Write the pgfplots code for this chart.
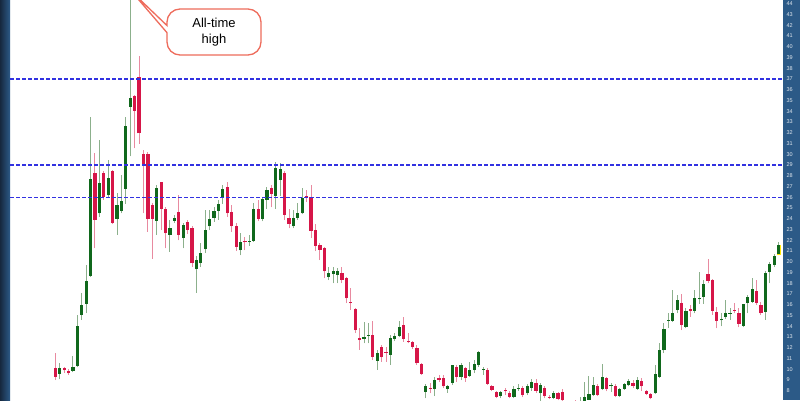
\documentclass[border=0pt]{standalone}
\usepackage{pgfplots}
\pgfplotsset{compat=1.18}
\usepackage{pgfplotstable}
\usepackage{fontspec}
\setmainfont{Liberation Sans}
\usetikzlibrary{shapes.callouts}

\definecolor{gbody}{RGB}{16,104,28}
\definecolor{rbody}{RGB}{214,22,72}
\definecolor{gwick}{RGB}{140,176,140}
\definecolor{rwick}{RGB}{232,138,160}
\definecolor{levelblue}{RGB}{50,50,225}
\definecolor{bandblue}{RGB}{44,90,135}
\definecolor{banddark}{RGB}{22,40,62}
\definecolor{calloutline}{RGB}{238,108,92}

% daily candles: index, open, high, low, close
\pgfplotstableread{
x o h l c
1 9.6 10.6 9.05 10.1
4 9.87 11.25 9.7 10.24
5 10.3 15.05 10.2 14.0
6 15.05 17.05 14.6 16.0
7 16.1 19.7 15.2 18.2
8 18.7 33.5 18.6 27.7
10 24.5 31.3 24.2 27.3
12 26.2 29.45 26.05 27.8
14 24.0 26.4 22.5 25.3
15 24.7 28.1 24.5 25.65
16 26.8 33.5 25.4 32.6
17 34.4 44.6 29.8 35.2
23 23.8 27.1 22.5 26.9
26 22.5 23.9 20.95 23.1
27 23.8 24.35 23.6 24.1
29 22.2 23.6 21.25 23.4
32 19.3 20.5 17.1 20.15
33 19.85 21.7 19.5 20.8
34 21.15 24.8 20.8 22.95
35 23.3 24.8 22.95 24.0
36 24.05 25.1 23.7 24.7
37 24.75 25.75 23.9 25.37
38 26.0 27.1 25.4 26.8
42 21.05 22.65 20.6 21.85
44 21.85 22.5 21.5 21.97
45 21.95 25.45 21.85 24.9
47 24.0 26.05 23.75 25.8
48 25.75 27.0 24.95 26.65
50 26.1 29.3 24.95 28.7
51 27.6 29.2 26.1 28.6
54 23.3 24.8 23.1 24.1
55 24.05 25.5 23.9 24.5
56 24.5 26.85 24.4 25.95
62 18.6 19.55 18.3 19.0
63 18.85 19.55 18.0 19.15
64 18.8 19.4 18.0 19.1
70 12.85 14.4 12.4 13.0
71 13.1 14.3 12.4 13.2
73 10.8 11.8 9.95 11.55
76 11.35 13.2 10.4 12.95
77 12.8 13.4 12.6 13.1
78 13.1 14.45 13.0 13.9
84 7.9 8.6 7.3 8.45
86 8.15 9.3 7.5 9.0
89 8.15 8.5 7.8 8.4
90 8.75 10.4 8.55 10.35
92 9.25 10.55 9.0 10.4
94 9.35 10.7 9.3 9.95
95 9.95 10.85 9.65 10.5
96 10.4 11.7 10.25 11.6
97 9.95 10.25 9.5 10.05
101 7.5 8.0 7.3 7.9
104 7.45 8.45 7.3 8.2
105 8.2 8.6 8.0 8.3
107 7.75 8.6 7.6 8.4
108 8.3 9.1 8.0 8.8
110 7.75 8.7 7.0 8.5
113 7.35 8.0 7.2 7.8
117 6.6 7.05 6.4 6.9
119 6.7 7.45 6.6 7.0
120 7.0 8.8 6.9 7.4
121 7.15 9.35 7.1 7.7
122 7.6 9.3 7.5 8.55
124 8.15 10.5 8.05 9.3
126 8.4 8.7 7.9 8.5
128 7.5 8.3 7.4 8.2
129 8.2 8.7 8.1 8.6
130 8.5 9.1 8.4 8.9
132 8.2 9.3 8.1 9.0
136 7.75 10.4 7.7 9.6
137 9.3 12.4 9.15 11.8
138 11.75 14.3 11.5 13.7
139 14.5 15.2 13.8 14.6
140 14.5 17.35 14.4 15.2
141 15.5 16.9 15.2 16.4
143 13.95 15.7 13.8 15.45
145 15.45 17.35 15.2 16.6
146 16.5 19.05 16.1 16.6
147 16.7 18.3 16.1 17.95
151 14.55 15.2 14.0 14.65
152 14.85 16.45 14.7 15.25
153 15.15 15.7 14.6 15.2
156 14.05 16.1 13.9 16.05
157 16.15 16.9 15.2 16.7
158 16.3 18.45 16.2 17.45
161 15.35 19.1 14.6 19.0
162 19.05 20.0 18.0 19.75
163 19.7 20.7 19.5 20.55
164 20.7 21.8 20.6 21.55
}\upcandles

\pgfplotstableread{
x o h l c
0 10.1 11.5 9.0 9.3
2 10.15 10.25 9.65 9.9
3 9.87 10.0 9.47 9.62
9 28.3 30.1 21.25 23.9
11 28.3 28.4 25.75 26.05
13 28.4 28.5 23.5 23.65
18 35.4 35.5 30.55 34.05
19 37.15 39.15 31.0 31.95
20 30.0 30.4 24.5 29.0
21 30.0 30.2 22.8 24.0
22 25.3 25.45 20.3 24.0
24 27.4 27.45 22.95 24.9
25 24.9 25.1 21.25 22.65
28 24.6 26.2 22.0 22.5
30 23.7 23.9 22.6 23.0
31 23.1 23.3 19.55 19.85
39 27.0 27.45 24.2 24.5
40 24.6 25.3 22.8 23.3
41 23.3 23.6 21.0 21.4
43 21.9 22.3 21.05 21.8
46 24.9 25.75 23.75 24.0
49 26.85 27.1 25.05 26.3
52 28.3 28.4 23.9 24.35
53 24.1 24.95 23.1 23.5
57 26.1 26.7 25.55 25.9
58 26.05 27.15 22.2 22.9
59 23.0 23.55 21.0 21.45
60 21.55 21.7 20.15 21.1
61 21.25 21.4 18.45 19.1
65 18.95 19.55 18.0 18.3
66 18.45 18.6 16.15 16.6
67 16.3 17.55 15.5 16.15
68 15.6 15.7 13.35 13.65
69 12.9 13.8 11.8 12.7
72 13.2 14.45 10.85 11.15
74 12.05 12.25 10.7 11.1
75 11.65 12.1 10.7 11.55
79 14.1 14.9 12.55 12.8
80 12.65 13.35 12.4 12.5
81 12.5 12.6 11.9 12.05
82 11.95 12.25 10.4 10.55
83 10.45 10.6 9.5 9.6
85 8.3 8.7 7.75 8.2
87 9.15 9.45 8.8 9.0
88 9.2 9.45 8.25 8.4
91 10.25 10.35 8.85 9.3
93 10.1 10.25 8.85 9.15
98 9.95 10.1 8.55 8.65
99 8.45 8.55 7.95 8.1
100 7.9 8.0 7.3 7.45
102 8.05 8.3 7.6 7.95
103 7.8 8.0 7.3 7.45
106 8.3 8.4 7.4 7.6
109 8.7 9.1 7.8 8.0
111 8.3 8.4 7.3 7.5
112 7.45 7.6 7.2 7.35
114 7.8 7.9 7.1 7.25
115 7.85 8.2 6.9 7.1
116 6.9 7.0 6.5 6.6
118 6.9 7.1 6.5 6.7
123 8.45 8.6 7.5 7.6
125 9.15 9.3 7.95 8.15
127 8.45 8.6 7.4 7.55
131 8.75 9.0 8.3 8.45
133 8.9 9.15 8.0 8.4
134 8.0 8.1 7.6 7.7
135 7.7 7.8 7.2 7.3
142 16.15 17.0 13.65 14.1
144 15.65 15.95 14.9 15.45
148 18.9 20.3 18.0 18.25
149 18.3 18.35 15.05 15.45
150 15.3 15.8 13.8 14.5
154 15.5 16.2 15.2 15.4
155 15.25 15.7 13.9 14.25
159 17.3 18.3 16.0 16.15
160 16.0 16.3 15.05 15.2
}\downcandles

% latest candle, outlined
\pgfplotstableread{
x o c
164 20.65 21.6
}\lastcandle

% price levels
\pgfplotstableread{
x y
-10.27 37
165 37
}\levelA
\pgfplotstableread{
x y
-10.27 29
165 29
}\levelB
\pgfplotstableread{
x y
-10.27 26
165 26
}\levelC

\pgfplotsset{
  candlepart/.style 2 args={draw=none, mark=none, forget plot,
    error bars/.cd, y dir=plus, y explicit, error mark=none,
    error bar style={line width=#1, draw=#2, solid}},
  levelline/.style={draw=levelblue, line width=1.45pt, mark=none, forget plot,
    dash pattern=on 4pt off 2pt},
}

\begin{document}
\begin{tikzpicture}[x=1pt,y=1pt]
\path[use as bounding box, clip] (0,0) rectangle (800,400);
\fill[white] (0,0) rectangle (800,400);
\shade[left color=banddark, right color=bandblue] (0,0) rectangle (10,400);
\fill[bandblue] (783,0) rectangle (800,400);

\begin{axis}[
  at={(10pt,0pt)}, anchor=south west,
  scale only axis, width=773pt, height=400pt,
  xmin=-10.27, xmax=165, ymin=7.14, ymax=44.35,
  axis line style={draw=none},
  xtick=\empty,
  ytick={8,...,44},
  yticklabel pos=right,
  major tick length=0pt,
  yticklabel style={font=\fontsize{5.5}{6}\selectfont, text=white!85!bandblue},
  /pgf/number format/assume math mode=true,
  clip=true,
]
% wicks
\addplot[candlepart={1pt}{gwick}]
  table[x=x, y=l, y error plus expr=\thisrow{h}-\thisrow{l}] {\upcandles};
\addplot[candlepart={1pt}{rwick}]
  table[x=x, y=l, y error plus expr=\thisrow{h}-\thisrow{l}] {\downcandles};
% outline behind the latest candle
\addplot[candlepart={4.2pt}{yellow!90!orange}]
  table[x=x, y=o, y error plus expr=\thisrow{c}-\thisrow{o}] {\lastcandle};
% bodies
\addplot[candlepart={3.2pt}{gbody}]
  table[x=x, y=o, y error plus expr=\thisrow{c}-\thisrow{o}] {\upcandles};
\addplot[candlepart={3.2pt}{rbody}]
  table[x=x, y=c, y error plus expr=\thisrow{o}-\thisrow{c}] {\downcandles};
% horizontal levels
\addplot[levelline] table {\levelA};
\addplot[levelline] table {\levelB};
\addplot[levelline] table {\levelC};
\end{axis}

\node[rectangle callout, rounded corners=13pt, draw=calloutline, line width=1.3pt,
  fill=white, minimum width=94pt, minimum height=46pt, align=center,
  font=\fontsize{13}{16}\selectfont, inner sep=2pt,
  callout absolute pointer={(132,408)}] at (214,368) {All-time\\high};
\end{tikzpicture}
\end{document}
